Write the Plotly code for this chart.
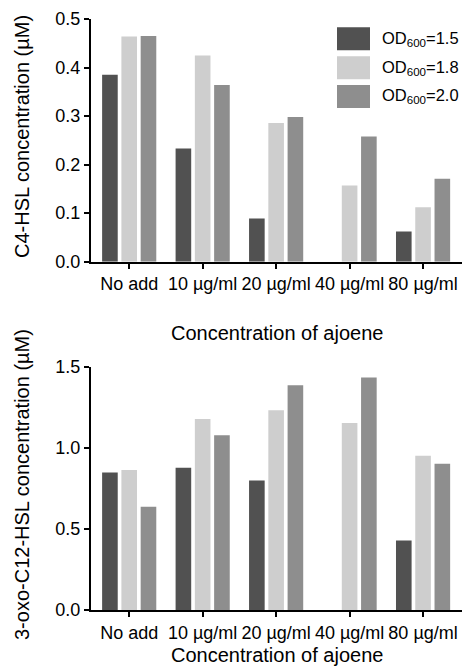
import plotly.graph_objects as go
from plotly.subplots import make_subplots

categories = ["No add", "10 µg/ml", "20 µg/ml", "40 µg/ml", "80 µg/ml"]
series_names = ["OD<sub>600</sub>=1.5", "OD<sub>600</sub>=1.8", "OD<sub>600</sub>=2.0"]
series_colors = ["#515151", "#cecece", "#8e8e8e"]

c4_od15 = [0.385, 0.233, 0.089, 0.0, 0.062]
c4_od18 = [0.464, 0.425, 0.286, 0.157, 0.112]
c4_od20 = [0.465, 0.364, 0.298, 0.258, 0.171]

c12_od15 = [0.847, 0.877, 0.799, 0.0, 0.429]
c12_od18 = [0.863, 1.177, 1.231, 1.153, 0.951]
c12_od20 = [0.637, 1.077, 1.385, 1.434, 0.902]

top_ticks = [0.0, 0.1, 0.2, 0.3, 0.4, 0.5]
bottom_ticks = [0.0, 0.5, 1.0, 1.5]

FONT = "Liberation Sans, Arial, sans-serif"

W, H = 462, 667
L, R, T, B = 91, 0, 19, 667 - 610
PW, PH = W - L - R, H - T - B

def px2paper(x, y):
    """window pixel -> paper coords"""
    return (x - L) / PW, (H - B - y) / PH

fig = make_subplots(rows=2, cols=1)

top_series = [c4_od15, c4_od18, c4_od20]
bot_series = [c12_od15, c12_od18, c12_od20]
for name, color, vals in zip(series_names, series_colors, top_series):
    fig.add_trace(go.Bar(x=categories, y=vals, name=name, marker_color=color,
                         marker_line_width=0, showlegend=False), row=1, col=1)
for name, color, vals in zip(series_names, series_colors, bot_series):
    fig.add_trace(go.Bar(x=categories, y=vals, name=name, marker_color=color,
                         marker_line_width=0, showlegend=False), row=2, col=1)

axis_common = dict(showline=True, linecolor="black", linewidth=2, ticks="outside",
                   ticklen=5, tickwidth=2, tickcolor="black", showgrid=False,
                   zeroline=False, tickfont=dict(size=18, color="black", family=FONT))

fig.update_xaxes(**axis_common, range=[-0.52, 4.53])
fig.update_yaxes(**axis_common)
fig.update_yaxes(range=[0, 0.5], tickvals=top_ticks, tickformat=".1f", row=1, col=1)
fig.update_yaxes(range=[0, 1.5], tickvals=bottom_ticks, tickformat=".1f", row=2, col=1)

top_dom = px2paper(0, 261.7)[1]
bot_dom = px2paper(0, 366.7)[1]

fig.update_layout(
    width=W, height=H,
    margin=dict(l=L, r=R, t=T, b=B),
    paper_bgcolor="white", plot_bgcolor="white",
    barmode="group", bargap=0.213, bargroupgap=0.19,
    font=dict(family=FONT, color="black"),
    showlegend=False,
)
fig.update_layout(
    yaxis=dict(domain=[top_dom, 1.0]),
    yaxis2=dict(domain=[0.0, bot_dom]),
)

annotations = [
    dict(text="C4-HSL concentration (µM)", x=22, y=137, textangle=-90),
    dict(text="3-oxo-C12-HSL concentration (µM)", x=22, y=485, textangle=-90),
    dict(text="Concentration of ajoene", x=277, y=333, textangle=0),
    dict(text="Concentration of ajoene", x=277, y=655, textangle=0),
]
for a in annotations:
    px, py = px2paper(a["x"], a["y"])
    fig.add_annotation(text=a["text"], x=px, y=py, xref="paper", yref="paper",
                       xanchor="center", yanchor="middle", showarrow=False,
                       textangle=a["textangle"], font=dict(size=20, family=FONT, color="black"))

# legend built as swatches + labels
leg_centers = [38.7, 67.8, 96.5]
for name, color, cy in zip(series_names, series_colors, leg_centers):
    x0, ytop = px2paper(337, cy - 11.5)
    x1, ybot = px2paper(370, cy + 11.5)
    fig.add_shape(type="rect", xref="paper", yref="paper", x0=x0, x1=x1, y0=ybot, y1=ytop,
                  fillcolor=color, line_width=0)
    tx, ty = px2paper(380, cy)
    fig.add_annotation(text=name, x=tx, y=ty, xref="paper", yref="paper",
                       xanchor="left", yanchor="middle", showarrow=False,
                       font=dict(size=16.5, family=FONT, color="black"))

fig.write_html("out.html", config={"displayModeBar": False},
               post_script="document.body.style.margin='0';document.body.style.overflow='hidden';")
